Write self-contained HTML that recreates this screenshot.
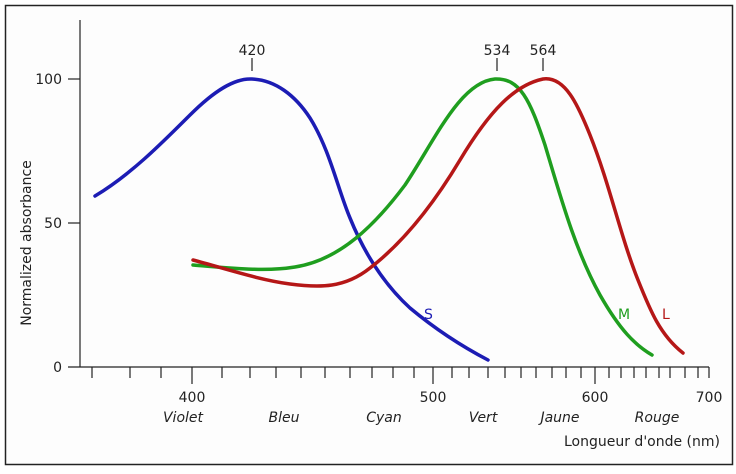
<!DOCTYPE html>
<html><head><meta charset="utf-8"><style>
html,body{margin:0;padding:0;background:#fff;}
svg{display:block;font-family:"DejaVu Sans","Liberation Sans",sans-serif;}
</style></head><body>
<svg width="736" height="474" viewBox="0 0 736 474">
<rect x="0" y="0" width="736" height="474" fill="#fff"/>
<rect x="5.5" y="5.5" width="727" height="459" fill="#fdfdfd" stroke="#222" stroke-width="1.5"/>
<g stroke="#222" stroke-width="1.2" fill="none">
<line x1="80" y1="20" x2="80" y2="367"/>
<line x1="68" y1="367" x2="709" y2="367"/>
<line x1="68" y1="79" x2="80" y2="79"/>
<line x1="68" y1="223" x2="80" y2="223"/>
<path d="M92 367v11M130 367v11M161 367v11M192 367v17M222 367v11M250 367v11M276 367v11M301 367v11M325 367v11M350 367v11M372 367v11M393 367v11M414 367v11M433 367v17M452 367v11M469 367v11M488 367v11M505 367v11M521 367v11M536 367v11M552 367v11M566 367v11M581 367v11M595 367v17M609 367v11M621 367v11M634 367v11M646 367v11M659 367v11M670 367v11M685 367v11M698 367v11M709 367v11"/>
<path d="M252 58v13M497 58v13M543 58v13"/>
</g>
<g font-size="14" fill="#222">
<text x="62" y="84" text-anchor="end">100</text>
<text x="62" y="228" text-anchor="end">50</text>
<text x="62" y="372" text-anchor="end">0</text>
<text x="192" y="402" text-anchor="middle">400</text>
<text x="433" y="402" text-anchor="middle">500</text>
<text x="595" y="402" text-anchor="middle">600</text>
<text x="709" y="402" text-anchor="middle">700</text>
<text x="252" y="55" text-anchor="middle">420</text>
<text x="497" y="55" text-anchor="middle">534</text>
<text x="543" y="55" text-anchor="middle">564</text>
<g font-style="italic">
<text x="183" y="422" text-anchor="middle">Violet</text>
<text x="284" y="422" text-anchor="middle">Bleu</text>
<text x="384" y="422" text-anchor="middle">Cyan</text>
<text x="483" y="422" text-anchor="middle">Vert</text>
<text x="560" y="422" text-anchor="middle">Jaune</text>
<text x="657" y="422" text-anchor="middle">Rouge</text>
</g>
<text x="720" y="446" text-anchor="end">Longueur d'onde (nm)</text>
<text transform="translate(31,243) rotate(-90)" text-anchor="middle">Normalized absorbance</text>
</g>
<g fill="none" stroke-width="3.5" stroke-linecap="round" stroke-linejoin="round">
<path stroke="#1c1cb4" d="M95 196 C130 175,160 145,190 115 C215 90,235 78,252 79 C275 80,295 95,310 118 C330 150,338 190,350 218 C365 255,385 285,410 308 C440 333,465 348,488 360"/>
<path stroke="#1f9e1f" d="M193 265 C230 268,265 272,295 267 C340 260,375 225,405 185 C435 140,460 82,495 79 C520 78,530 100,545 145 C560 195,575 250,600 295 C620 330,635 345,652 355"/>
<path stroke="#b51717" d="M193 260 C230 270,260 280,290 284 C320 288,345 288,370 268 C400 245,430 210,460 160 C490 110,515 85,543 79 C565 76,578 105,590 135 C610 185,620 235,638 280 C650 310,660 335,683 353"/>
</g>
<g font-size="14">
<text x="424" y="319" fill="#1c1cb4">S</text>
<text x="618" y="319" fill="#1f9e1f">M</text>
<text x="662" y="319" fill="#b51717">L</text>
</g>
</svg>
</body></html>
